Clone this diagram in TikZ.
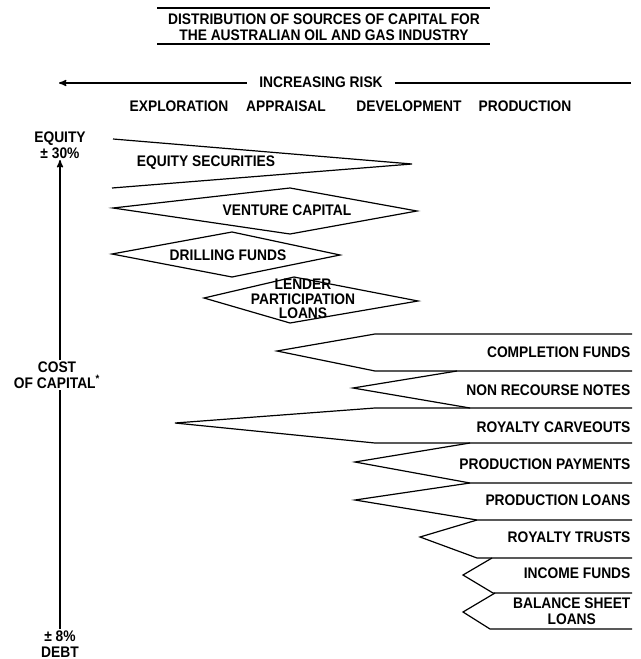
\documentclass[tikz,border=0pt]{standalone}
\usepackage{fontspec}
\setmainfont[FakeStretch=0.9]{Liberation Sans}
\usetikzlibrary{arrows, positioning}
\tikzstyle{band}=[draw=black, line width=0.9pt, line join=miter]
\tikzstyle{lbl}=[font=\fontsize{11.5}{12}\selectfont\bfseries, align=center, inner sep=1pt]
\tikzstyle{fund}=[lbl, anchor=east]
\tikzstyle{rule}=[line width=1.1pt]
\tikzstyle{axis}=[line width=1pt, -stealth']

\begin{document}
\begin{tikzpicture}[x=0.75pt, y=-0.75pt]
  \useasboundingbox (0,0) rectangle (641,659);
  % title
  \node[lbl] (title) at (324,27) {DISTRIBUTION OF SOURCES OF CAPITAL FOR\\THE AUSTRALIAN OIL AND GAS INDUSTRY};
  \coordinate (tnw) at (157,8);  \coordinate (tne) at (490,8);
  \coordinate (tsw) at (157,44); \coordinate (tse) at (490,44);
  \draw[rule] (tnw) -- (tne);
  \draw[rule] (tsw) -- (tse);
  % risk arrow
  \coordinate (riskend) at (631,83);
  \coordinate (risktip) at (59,83);
  \draw[axis] (riskend) -- (risktip);
  \node[lbl, fill=white, inner xsep=9pt] (risk) at (321,82) {INCREASING RISK};
  % phases
  \node[lbl] (explor) at (179,106) {EXPLORATION};
  \node[lbl] (apprais) at (286,106) {APPRAISAL};
  \node[lbl] (develop) at (409,106) {DEVELOPMENT};
  \node[lbl] (product) at (525,106) {PRODUCTION};
  % cost axis
  \node[lbl] (equity) at (60,145) {EQUITY\\± 30\%};
  \node[lbl, anchor=south] (debt) at (60,659) {± 8\%\\DEBT};
  \draw[axis] (debt) -- (equity);
  \node[lbl, fill=white] (cost) at (57,375) {COST\\OF CAPITAL\textsuperscript{*}};

  % equity side
  \draw[band] (113,139) -- (412,164) -- (112,188);
  \node[lbl] (eqsec) at (206,163) {EQUITY SECURITIES};
  \draw[band] (113,208) -- (290,188) -- (417,211) -- (290,234) -- cycle;
  \node[lbl] (venture) at (287,210) {VENTURE CAPITAL};
  \draw[band] (112,254) -- (232,232) -- (340,255) -- (232,277) -- cycle;
  \node[lbl] (drill) at (228,255) {DRILLING FUNDS};
  \draw[band] (204,298) -- (294,277) -- (418,301) -- (290,323) -- cycle;
  \node[lbl, font=\fontsize{11.5}{11}\selectfont\bfseries] (lender) at (303,299) {LENDER\\PARTICIPATION\\LOANS};

  % debt side
  \draw[band] (632,334) -- (375,334) -- (277,351) -- (375,371) -- (632,371);
  \node[fund] (complet) at (632,352) {COMPLETION FUNDS};
  \draw[band] (457,371) -- (353,388) -- (470,408) -- (632,408);
  \node[fund] (nonrec) at (632,390) {NON RECOURSE NOTES};
  \draw[band] (470,408) -- (375,408) -- (175,423) -- (375,443) -- (632,443);
  \node[fund] (carve) at (632,427) {ROYALTY CARVEOUTS};
  \draw[band] (470,443) -- (355,462) -- (470,483) -- (632,483);
  \node[fund] (prodpay) at (632,464) {PRODUCTION PAYMENTS};
  \draw[band] (470,483) -- (355,500) -- (477,520) -- (632,520);
  \node[fund] (prodloan) at (632,500) {PRODUCTION LOANS};
  \draw[band] (477,520) -- (420,537) -- (477,558) -- (632,558);
  \node[fund] (roytrust) at (632,537) {ROYALTY TRUSTS};
  \draw[band] (492,558) -- (463,575) -- (493,593) -- (632,593);
  \node[fund] (income) at (632,573) {INCOME FUNDS};
  \draw[band] (495,593) -- (463,612) -- (490,629) -- (632,629);
  \node[fund] (balance) at (632,611) {BALANCE SHEET\\LOANS};
\end{tikzpicture}
\end{document}
